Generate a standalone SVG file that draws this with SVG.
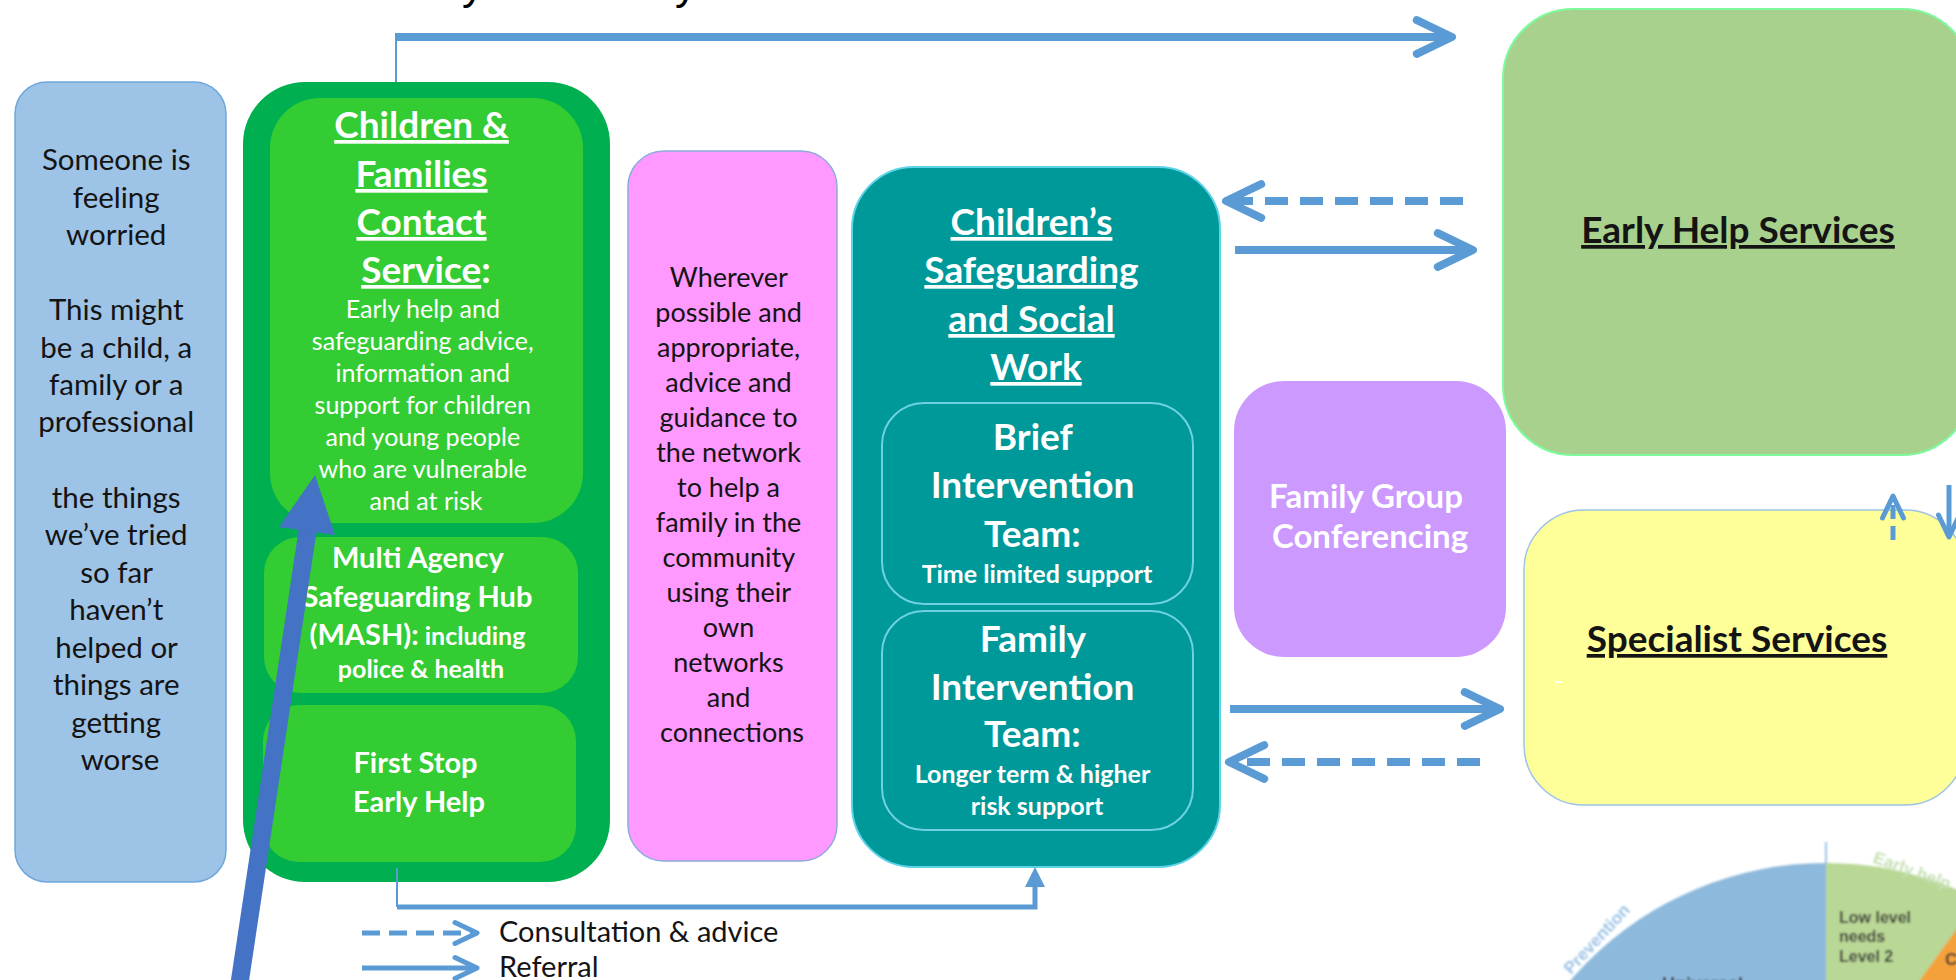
<svg xmlns="http://www.w3.org/2000/svg" width="1956" height="980" viewBox="0 0 1956 980">
  <defs>
    <style>
      .t { font-family: Lato, "Open Sans", "Liberation Sans", sans-serif; text-anchor: middle; }
      .blk { fill: #141414; }
      .wht { fill: #ffffff; }
      .b { font-weight: 700; }
      .u { text-decoration: underline; }
      .ln { fill: none; stroke: #5b9bd5; }
      .pie { font-family: "Liberation Sans", Arial, sans-serif; font-weight: 700; }
    </style>
    <!-- open chevron head, scaled by the line width -->
    <marker id="chev" markerUnits="strokeWidth" viewBox="-6 -3.5 7 7" markerWidth="7" markerHeight="7" refX="0" refY="0" orient="auto">
      <path d="M-4.4,-2.1 L0,0 L-4.4,2.1" fill="none" stroke="#5b9bd5" stroke-width="1" stroke-linecap="round" stroke-linejoin="round"/>
    </marker>
    <!-- solid triangle head -->
    <marker id="tri" markerUnits="strokeWidth" viewBox="-3 -3 6 6" markerWidth="6" markerHeight="6" refX="0" refY="0" orient="auto">
      <path d="M-1.4,-2 L2.6,0 L-1.4,2 Z" fill="#5b9bd5"/>
    </marker>
    <filter id="soft" x="-10%" y="-10%" width="120%" height="120%">
      <feGaussianBlur stdDeviation="0.8"/>
    </filter>
    <clipPath id="pieClip">
      <circle cx="1826" cy="1200" r="337"/>
    </clipPath>
  </defs>

  <rect width="1956" height="980" fill="#ffffff"/>

  <!-- heading, mostly above the page edge -->
  <g id="heading">
    <text x="462" y="-1" font-family="Liberation Sans, Arial, sans-serif" font-size="44" fill="#000">y</text>
    <text x="675" y="-1" font-family="Liberation Sans, Arial, sans-serif" font-size="44" fill="#000">y</text>
  </g>

  <!-- someone is worried -->
  <g id="worried">
    <rect x="15" y="82" width="211" height="800" rx="32" fill="#9dc3e6" stroke="#6fa8dc" stroke-width="1.5"/>
    <text class="t blk" font-size="29.5">
      <tspan x="120" y="170">Someone is</tspan>
      <tspan x="120" y="208">feeling</tspan>
      <tspan x="120" y="245">worried</tspan>
      <tspan x="120" y="320">This might</tspan>
      <tspan x="120" y="358">be a child, a</tspan>
      <tspan x="120" y="395">family or a</tspan>
      <tspan x="120" y="432">professional</tspan>
      <tspan x="120" y="508">the things</tspan>
      <tspan x="120" y="545">we’ve tried</tspan>
      <tspan x="120" y="583">so far</tspan>
      <tspan x="120" y="620">haven’t</tspan>
      <tspan x="120" y="658">helped or</tspan>
      <tspan x="120" y="695">things are</tspan>
      <tspan x="120" y="733">getting</tspan>
      <tspan x="120" y="770">worse</tspan>
    </text>
  </g>

  <!-- Children & Families Contact Service -->
  <g id="contact-service">
    <rect x="243" y="82" width="367" height="800" rx="62" fill="#00b050"/>
    <rect x="270" y="98" width="313" height="425" rx="50" fill="#33cc33"/>
    <text class="t wht b" font-size="37">
      <tspan class="u" x="426" y="138">Children &amp;</tspan>
      <tspan class="u" x="426" y="187">Families</tspan>
      <tspan class="u" x="426" y="235">Contact</tspan>
      <tspan x="426" y="283"><tspan class="u">Service</tspan>:</tspan>
    </text>
    <text class="t wht" font-size="25">
      <tspan x="426" y="318">Early help and</tspan>
      <tspan x="426" y="350">safeguarding advice,</tspan>
      <tspan x="426" y="382">information and</tspan>
      <tspan x="426" y="414">support for children</tspan>
      <tspan x="426" y="446">and young people</tspan>
      <tspan x="426" y="478">who are vulnerable</tspan>
      <tspan x="426" y="510">and at risk</tspan>
    </text>
  </g>

  <g id="mash">
    <rect x="264" y="537" width="314" height="156" rx="36" fill="#33cc33"/>
    <text class="t wht b" font-size="29">
      <tspan x="421" y="568">Multi Agency</tspan>
      <tspan x="421" y="607">Safeguarding Hub</tspan>
      <tspan x="421" y="645">(MASH):<tspan font-size="25"> including</tspan></tspan>
      <tspan x="421" y="678" font-size="25">police &amp; health</tspan>
    </text>
  </g>

  <g id="first-stop">
    <rect x="263" y="705" width="313" height="157" rx="36" fill="#33cc33"/>
    <text class="t wht b" font-size="29">
      <tspan x="419" y="773">First Stop</tspan>
      <tspan x="419" y="812">Early Help</tspan>
    </text>
  </g>

  <!-- community network advice -->
  <g id="network-advice">
    <rect x="628" y="151" width="209" height="710" rx="36" fill="#ff99ff" stroke="#8eaadb" stroke-width="1.5"/>
    <text class="t blk" font-size="27">
      <tspan x="732" y="287">Wherever</tspan>
      <tspan x="732" y="322">possible and</tspan>
      <tspan x="732" y="357">appropriate,</tspan>
      <tspan x="732" y="392">advice and</tspan>
      <tspan x="732" y="427">guidance to</tspan>
      <tspan x="732" y="462">the network</tspan>
      <tspan x="732" y="497">to help a</tspan>
      <tspan x="732" y="532">family in the</tspan>
      <tspan x="732" y="567">community</tspan>
      <tspan x="732" y="602">using their</tspan>
      <tspan x="732" y="637">own</tspan>
      <tspan x="732" y="672">networks</tspan>
      <tspan x="732" y="707">and</tspan>
      <tspan x="732" y="742">connections</tspan>
    </text>
  </g>

  <!-- Children's Safeguarding and Social Work -->
  <g id="safeguarding-social-work">
    <rect x="852" y="167" width="368" height="700" rx="62" fill="#009999" stroke="#5dd3e8" stroke-width="2"/>
    <text class="t wht b" font-size="37">
      <tspan class="u" x="1036" y="235">Children’s</tspan>
      <tspan class="u" x="1036" y="283">Safeguarding</tspan>
      <tspan class="u" x="1036" y="332">and Social</tspan>
      <tspan class="u" x="1036" y="380">Work</tspan>
    </text>
  </g>

  <g id="brief-intervention">
    <rect x="882" y="403" width="311" height="201" rx="42" fill="#009999" stroke="#6fd0e8" stroke-width="2"/>
    <text class="t wht b" font-size="37">
      <tspan x="1037" y="450">Brief</tspan>
      <tspan x="1037" y="498">Intervention</tspan>
      <tspan x="1037" y="547">Team:</tspan>
      <tspan x="1037" y="583" font-size="25">Time limited support</tspan>
    </text>
  </g>

  <g id="family-intervention">
    <rect x="882" y="611" width="311" height="219" rx="42" fill="#009999" stroke="#6fd0e8" stroke-width="2"/>
    <text class="t wht b" font-size="37">
      <tspan x="1037" y="652">Family</tspan>
      <tspan x="1037" y="700">Intervention</tspan>
      <tspan x="1037" y="747">Team:</tspan>
      <tspan x="1037" y="783" font-size="25">Longer term &amp; higher</tspan>
      <tspan x="1037" y="815" font-size="25">risk support</tspan>
    </text>
  </g>

  <g id="family-group-conferencing">
    <rect x="1234" y="381" width="272" height="276" rx="50" fill="#cc99ff"/>
    <text class="t wht b" font-size="33">
      <tspan x="1370" y="508">Family Group</tspan>
      <tspan x="1370" y="548">Conferencing</tspan>
    </text>
  </g>

  <g id="early-help-services">
    <rect x="1503" y="9" width="469" height="446" rx="70" fill="#a9d18e" stroke="#7dfa9c" stroke-width="2"/>
    <text class="t blk b u" font-size="37" x="1738" y="243">Early Help Services</text>
  </g>

  <g id="specialist-services">
    <rect x="1524" y="510" width="441" height="295" rx="60" fill="#ffff99" stroke="#9dc3e6" stroke-width="1.5"/>
    <text class="t blk b u" font-size="37" x="1737" y="652">Specialist Services</text>
    <rect x="1555" y="681" width="7" height="2" fill="#ffffff"/>
  </g>

  <!-- connectors -->
  <g id="connectors">
    <path class="ln" d="M396,82 V37" stroke-width="2"/>
    <path class="ln" d="M395,37 H1452" stroke-width="8" marker-end="url(#chev)"/>
    <path class="ln" d="M1463,201 H1226" stroke-width="8" stroke-dasharray="23 12" marker-end="url(#chev)"/>
    <path class="ln" d="M1235,250 H1473" stroke-width="8" marker-end="url(#chev)"/>
    <path class="ln" d="M1230,709 H1500" stroke-width="8" marker-end="url(#chev)"/>
    <path class="ln" d="M1480,762 H1229" stroke-width="8" stroke-dasharray="23 12" marker-end="url(#chev)"/>
    <path class="ln" d="M1893,540 V496" stroke-width="5" stroke-dasharray="14 7" marker-end="url(#chev)"/>
    <path class="ln" d="M1949,485 V537" stroke-width="5" marker-end="url(#chev)"/>
    <path class="ln" d="M397,868 V907" stroke-width="2"/>
    <path class="ln" d="M397,907 H1035 V880" stroke-width="5" marker-end="url(#tri)"/>
    <!-- pointer into the contact service -->
    <line x1="237" y1="1000" x2="308" y2="528" stroke="#4472c4" stroke-width="18"/>
    <polygon points="279,527 315,475 335,535" fill="#4472c4"/>
  </g>

  <!-- key -->
  <g id="legend">
    <path class="ln" d="M362,933 H477" stroke-width="5" stroke-dasharray="18 9" marker-end="url(#chev)"/>
    <path class="ln" d="M362,968 H477" stroke-width="5" marker-end="url(#chev)"/>
    <text class="blk" font-family="Lato, 'Open Sans', sans-serif" font-size="29" x="499" y="942">Consultation &amp; advice</text>
    <text class="blk" font-family="Lato, 'Open Sans', sans-serif" font-size="29" x="499" y="977">Referral</text>
  </g>

  <!-- levels of need wheel -->
  <g id="needs-wheel" filter="url(#soft)">
    <line x1="1826" y1="842" x2="1826" y2="866" stroke="#9dc3e6" stroke-width="2"/>
    <g clip-path="url(#pieClip)">
      <rect x="1480" y="860" width="346" height="130" fill="#8db9dc"/>
      <rect x="1826" y="860" width="140" height="130" fill="#b9d795"/>
      <polygon points="1992,880 1900,1008 1970,1008 1970,880" fill="#f4a13a"/>
    </g>
    <text class="pie" font-size="17" fill="#9dc3e6" transform="translate(1571 975) rotate(-47)">Prevention</text>
    <text class="pie" font-size="17" fill="#c5e0b4" transform="translate(1872 862) rotate(20)">Early help</text>
    <text class="pie" font-size="16" fill="#333333">
      <tspan x="1839" y="923">Low level</tspan>
      <tspan x="1839" y="942">needs</tspan>
      <tspan x="1839" y="962">Level 2</tspan>
    </text>
    <text class="pie" font-size="18" fill="#333333" x="1662" y="990">Universal</text>
    <text class="pie" font-size="17" fill="#333333" x="1945" y="965">C</text>
  </g>
</svg>
